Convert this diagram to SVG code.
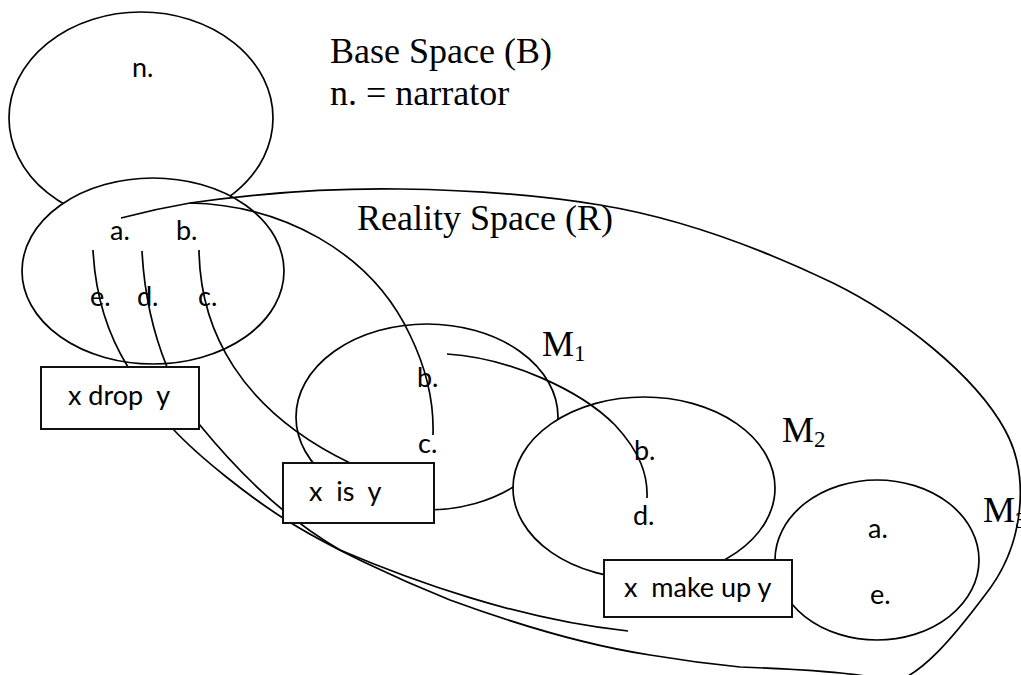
<svg xmlns="http://www.w3.org/2000/svg" width="1021" height="675" viewBox="0 0 1021 675">
<style>
  .sp { fill: #fff; stroke: #000; stroke-width: 1.7; }
  .box { fill: #fff; stroke: #111; stroke-width: 2; }
  .ln { fill: none; stroke: #000; stroke-width: 1.7; }
  .lab { font-family: Lato, "Liberation Sans", sans-serif; font-size: 27px; fill: #000; white-space: pre; }
  .ser { font-family: "Liberation Serif", "Times New Roman", serif; font-size: 36px; fill: #000; }
  .sub { font-family: "Liberation Serif", "Times New Roman", serif; font-size: 23px; fill: #000; }
</style>
<rect width="1021" height="675" fill="#fff"/>

<g id="node-base">
  <ellipse class="sp" cx="141" cy="118" rx="132" ry="106"/>
  <text class="lab" x="132" y="77">n.</text>
</g>
<g id="node-reality">
  <ellipse class="sp" cx="153" cy="271" rx="131" ry="93"/>
  <text class="lab" x="110" y="240">a.</text>
  <text class="lab" x="176" y="240">b.</text>
  <text class="lab" x="90" y="306">e.</text>
  <text class="lab" x="137" y="306">d.</text>
  <text class="lab" x="198" y="306">c.</text>
</g>
<g id="node-m1">
  <ellipse class="sp" cx="427" cy="417" rx="131" ry="93"/>
  <text class="lab" x="417" y="387">b.</text>
  <text class="lab" x="418" y="453">c.</text>
</g>
<g id="node-m2">
  <ellipse class="sp" cx="644" cy="488" rx="131" ry="91"/>
  <text class="lab" x="634" y="460">b.</text>
  <text class="lab" x="633" y="525">d.</text>
</g>
<g id="node-m3">
  <ellipse class="sp" cx="877" cy="560" rx="102" ry="80"/>
  <text class="lab" x="868" y="538">a.</text>
  <text class="lab" x="870" y="604">e.</text>
</g>

<g id="connectors">
  <path class="ln" d="M121,218 Q155,209 190,203 C260,193 330,188 400,189 C480,190 545,196 600,205 C680,218 760,248 833,283 C900,316 975,375 1005,430 C1030,475 1025,545 985,595 C955,635 920,678 890,683 C880,675 820,670 740,667 C710,664 680,660 650,655 C585,645 510,622 450,600 C400,580 330,548 283,518 C250,497 200,458 173,429"/>
  <path class="ln" d="M199,424 C235,468 280,515 340,550 C410,580 520,620 628,631"/>
  <path class="ln" d="M190,203 C280,205 370,250 410,335 C428,372 434,405 433,435"/>
  <path class="ln" d="M447,354 C510,358 580,390 615,425 C640,452 648,475 647,498"/>
  <path class="ln" d="M93,250 C95,290 105,330 128,367"/>
  <path class="ln" d="M142,251 C144,290 152,330 167,367"/>
  <path class="ln" d="M199,250 C200,330 240,410 350,463"/>
</g>

<g id="node-drop">
  <rect class="box" x="41" y="367" width="158" height="62"/>
  <text class="lab" x="68" y="405">x drop  y</text>
</g>
<g id="node-is">
  <rect class="box" x="283" y="463" width="151" height="60"/>
  <text class="lab" x="309" y="501">x  is  y</text>
</g>
<g id="node-makeup">
  <rect class="box" x="604" y="560" width="188" height="57"/>
  <text class="lab" x="624" y="597">x  make up y</text>
</g>

<g id="labels">
  <text class="ser" x="330" y="63">Base Space (B)</text>
  <text class="ser" x="330" y="105">n. = narrator</text>
  <text class="ser" x="357" y="230">Reality Space (R)</text>
  <text class="ser" x="542" y="356">M<tspan class="sub" dy="5">1</tspan></text>
  <text class="ser" x="782" y="442">M<tspan class="sub" dy="5">2</tspan></text>
  <text class="ser" x="983" y="522">M<tspan class="sub" dy="6">3</tspan></text>
</g>
</svg>
